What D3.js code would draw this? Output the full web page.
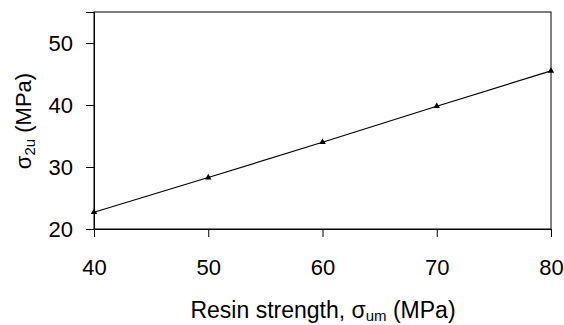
<!DOCTYPE html>
<html>
<head>
<meta charset="utf-8">
<script src="https://cdn.jsdelivr.net/npm/d3@7"></script>
<style>
  html, body { margin: 0; padding: 0; background: #fff; }
  svg { display: block; font-family: "Liberation Sans", Arial, sans-serif; }
</style>
</head>
<body>
<svg id="chart" width="564" height="325"></svg>
<script>
// Resin strength (MPa) and resulting transverse strength sigma_2u (MPa)
const resinStrength = [40, 50, 60, 70, 80];
const sigma2u = [22.7, 28.3, 34.0, 39.8, 45.5];
const xTicks = [40, 50, 60, 70, 80];
const yTicks = [20, 30, 40, 50];

const svg = d3.select("#chart");
const margin = { left: 94, top: 12, right: 13, bottom: 96 };
const W = 564, H = 325;

const x = d3.scaleLinear().domain([40, 80]).range([margin.left, W - margin.right]);
const y = d3.scaleLinear().domain([20, 55]).range([H - margin.bottom, margin.top]);

// plot frame
svg.append("rect")
  .attr("x", x(40)).attr("y", y(55))
  .attr("width", x(80) - x(40)).attr("height", y(20) - y(55))
  .attr("fill", "none").attr("stroke", "#000").attr("stroke-width", 1);

// axes
const xAxis = svg.append("g")
  .attr("transform", `translate(0,${y(20)})`)
  .call(d3.axisBottom(x).tickValues(xTicks).tickSize(8).tickPadding(22).tickFormat(d3.format("d")));
const yAxis = svg.append("g")
  .attr("transform", `translate(${x(40)},0)`)
  .call(d3.axisLeft(y).tickValues(yTicks).tickSize(8).tickPadding(13).tickFormat(d3.format("d")));

[xAxis, yAxis].forEach(g => {
  g.select(".domain").attr("stroke", "#000");
  g.selectAll(".tick line").attr("stroke", "#000");
  g.selectAll(".tick text")
    .attr("fill", "#000")
    .style("font-size", "22px")
    .style("font-family", "'Liberation Sans', Arial, sans-serif");
});
yAxis.selectAll(".tick text").attr("dy", "0.36em");

// data line
const pts = resinStrength.map((r, i) => [r, sigma2u[i]]);
svg.append("path")
  .datum(pts)
  .attr("fill", "none").attr("stroke", "#000").attr("stroke-width", 1.2)
  .attr("d", d3.line().x(d => x(d[0])).y(d => y(d[1])));

// triangle markers
svg.append("g").selectAll("path")
  .data(pts)
  .join("path")
  .attr("transform", d => `translate(${x(d[0])},${y(d[1])})`)
  .attr("d", d3.symbol(d3.symbolTriangle, 18)())
  .attr("fill", "#000");

// axis titles
const xt = svg.append("text")
  .attr("x", 323)
  .attr("y", 318)
  .attr("text-anchor", "middle")
  .style("font-size", "23px");
xt.append("tspan").text("Resin strength, σ");
xt.append("tspan").attr("dy", 3).style("font-size", "15px").text("um");
xt.append("tspan").attr("dy", -3).text(" (MPa)");

const yt = svg.append("text")
  .attr("transform", `translate(31,${121}) rotate(-90)`)
  .attr("text-anchor", "middle")
  .style("font-size", "22px");
yt.append("tspan").text("σ");
yt.append("tspan").attr("dy", 4).style("font-size", "15px").text("2u");
yt.append("tspan").attr("dy", -4).text(" (MPa)");
</script>
</body>
</html>
